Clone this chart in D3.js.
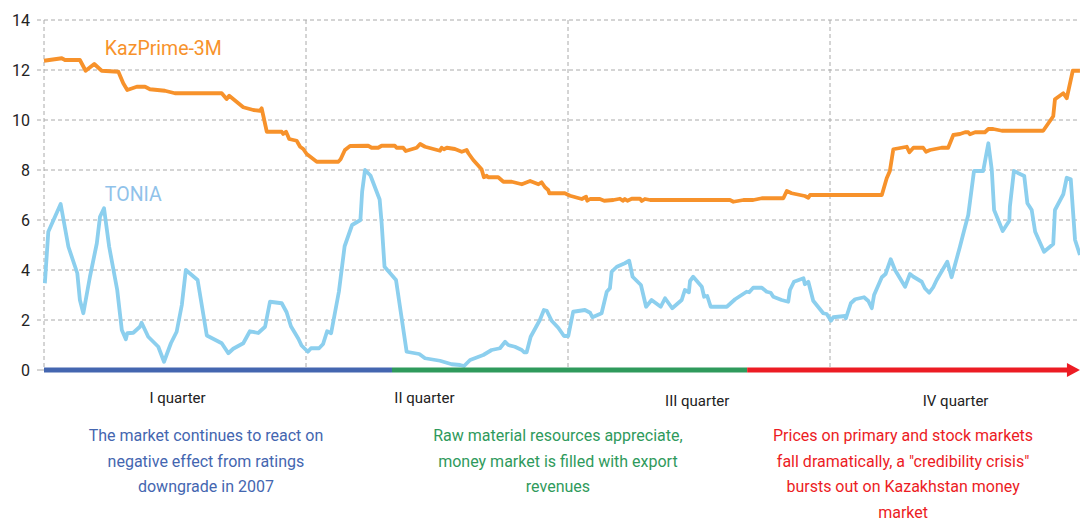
<!DOCTYPE html>
<html><head><meta charset="utf-8">
<script src="https://cdn.jsdelivr.net/npm/d3@7"></script>
<style>
body{margin:0;background:#fff;}
svg{display:block;font-family:Roboto, "Noto Sans", sans-serif;}
</style></head>
<body><svg id="c" width="1080" height="520"></svg>
<script>
// Day of year (0..365) and rate, %
const kazDays = [0,6.2,7.3,12.5,14.5,17.5,20.1,25.9,27.6,29.0,32.3,35.2,36.9,42.1,45.6,61.9,63.6,64.5,69.4,72.9,75.2,75.8,77.6,82.8,83.3,84.3,85.4,88.0,89.2,90.3,91.5,95.0,102.5,103.3,104.8,106.6,112.9,114.1,116.4,117.6,122.2,122.8,125.1,126.0,129.8,131.0,132.7,137.9,138.5,139.3,140.3,143.1,145.5,147.2,147.8,149.5,152.4,153.2,154.2,154.7,158.2,160.0,162.9,166.4,169.3,172.2,173.3,174.5,175.6,176.0,181.4,183.2,187.3,188.8,189.2,190.2,193.6,195.1,198.3,200.6,201.6,202.3,203.2,204.7,207.6,208.2,209.3,211.1,238.9,240.1,243.6,247.0,250.0,257.5,258.7,260.4,265.0,266.2,266.8,291.8,293.5,294.6,295.8,300.5,301.4,302.8,306.2,307.2,308.6,312.6,314.9,316.7,319.0,320.8,321.9,322.5,324.3,327.7,328.9,330.6,333.6,348.0,351.5,352.1,355.0,356.2,358.3,360.8];
const kazValues = [12.37,12.47,12.4,12.4,11.97,12.24,11.97,11.93,11.47,11.2,11.33,11.33,11.23,11.17,11.07,11.07,10.84,10.97,10.51,10.4,10.37,10.47,9.53,9.53,9.44,9.53,9.24,9.17,8.93,8.84,8.64,8.33,8.33,8.43,8.8,8.96,8.97,8.89,8.89,8.97,8.97,8.89,8.89,8.76,8.89,9.04,8.93,8.77,8.89,8.83,8.89,8.84,8.73,8.8,8.67,8.4,8.03,7.71,7.77,7.71,7.71,7.53,7.53,7.43,7.56,7.43,7.51,7.31,7.2,7.07,7.07,6.97,6.84,6.93,6.77,6.84,6.84,6.77,6.8,6.85,6.77,6.84,6.77,6.85,6.85,6.76,6.84,6.8,6.8,6.73,6.8,6.8,6.87,6.87,7.16,7.07,6.96,6.89,7.0,7.0,7.67,7.96,8.83,8.93,8.71,8.89,8.89,8.73,8.8,8.89,8.89,9.4,9.44,9.51,9.51,9.43,9.51,9.51,9.64,9.64,9.57,9.57,10.15,10.83,11.07,10.87,11.97,11.97];
const toniaDays = [0.3,1.5,5.8,8.5,11.6,12.5,13.7,16.0,18.4,19.5,20.9,22.7,25.5,27.1,28.5,29.0,31.1,33.4,34.0,36.3,39.8,41.8,44.2,46.2,48.0,49.4,53.5,56.7,61.9,64.2,65.9,69.4,71.7,74.6,77.0,78.7,82.8,84.5,86.0,88.6,89.7,91.9,93.0,95.8,97.2,98.6,100.0,102.7,104.7,107.3,110.2,110.8,111.8,113.7,116.9,117.6,118.6,122.6,126.3,130.7,132.7,137.9,142.0,144.9,146.3,148.4,153.0,155.9,158.8,160.6,161.7,164.0,166.4,167.2,168.1,169.5,172.7,174.1,175.1,176.8,179.1,181.1,182.6,184.3,188.4,190.2,191.0,194.2,196.0,197.1,197.7,199.5,202.3,203.8,205.0,207.9,209.7,211.6,214.8,216.3,218.8,222.1,223.2,224.6,225.0,226.1,229.1,229.9,231.0,232.2,237.8,240.7,244.7,245.6,247.0,250.0,251.7,253.1,254.0,256.9,259.2,259.8,261.2,264.5,265.0,266.2,267.9,271.4,272.6,274.1,274.9,279.0,279.3,281.0,282.5,285.6,287.1,288.3,289.1,291.8,293.1,294.9,296.4,299.9,301.6,302.8,305.7,306.8,308.3,309.7,310.9,314.6,316.1,319.0,320.8,321.9,323.9,327.1,328.9,330.1,330.9,333.9,336.2,336.4,337.8,341.4,342.5,344.0,345.2,348.3,351.5,352.1,355.0,356.2,357.6,359.1,360.8];
const toniaValues = [3.47,5.53,6.64,4.93,3.87,2.8,2.27,3.73,5.07,6.13,6.47,4.93,3.2,1.6,1.23,1.47,1.49,1.73,1.89,1.33,0.93,0.33,1.07,1.53,2.6,4.0,3.6,1.38,1.07,0.67,0.85,1.07,1.55,1.48,1.73,2.73,2.67,2.31,1.75,1.25,0.98,0.73,0.87,0.87,1.04,1.55,1.47,3.13,4.95,5.8,6.0,7.13,8.0,7.78,6.82,5.87,4.13,3.6,0.73,0.64,0.47,0.37,0.23,0.2,0.16,0.4,0.6,0.8,0.87,1.13,1.0,0.93,0.8,0.71,0.71,1.33,2.0,2.4,2.37,1.97,1.69,1.36,1.36,2.33,2.4,2.29,2.11,2.27,3.13,3.27,3.93,4.13,4.27,4.37,3.73,3.4,2.53,2.8,2.53,2.87,2.47,2.8,3.2,3.11,3.56,3.73,3.33,2.93,2.96,2.53,2.53,2.83,3.13,3.11,3.29,3.29,3.13,3.09,2.93,2.8,2.73,3.2,3.53,3.67,3.43,3.53,2.77,2.27,2.24,1.97,2.11,2.16,2.07,2.67,2.83,2.91,2.76,2.47,3.0,3.71,3.84,4.43,4.0,3.33,3.84,3.73,3.53,3.27,3.09,3.31,3.6,4.33,3.71,4.93,5.73,6.2,7.96,7.96,9.07,8.0,6.4,5.56,5.97,6.53,7.96,7.76,6.67,6.4,5.53,4.73,5.04,6.4,7.03,7.69,7.63,5.2,4.6];
const yTicks = [0,2,4,6,8,10,12,14];
const quarterStarts = [0,91.25,182.5,273.75];
const quarterLabels = ["I quarter","II quarter","III quarter","IV quarter"];
const quarterLabelDays = [46.5,132.5,227.5,317.5];
const phaseBounds = [0,121.2,244.9,360.8];
const phaseColors = ["#4466b0","#2f9a5c","#ec1c24"];
const phaseTexts = [
  ["The market continues to react on","negative effect from ratings","downgrade in 2007"],
  ["Raw material resources appreciate,","money market is filled with export","revenues"],
  ["Prices on primary and stock markets","fall dramatically, a \"credibility crisis\"","bursts out on Kazakhstan money","market"]
];
const phaseTextDays = [56.4,179.0,299.2];

const svg = d3.select("#c");
const x = d3.scaleLinear().domain([0,365]).range([44,1092]);
const y = d3.scaleLinear().domain([0,14]).range([370,20]);

// horizontal grid
svg.append("g").selectAll("line").data(yTicks.filter(d=>d>0)).join("line")
  .attr("x1",37).attr("x2",1080).attr("y1",d=>y(d)).attr("y2",d=>y(d))
  .attr("stroke","#aaa").attr("stroke-width",1).attr("stroke-dasharray","4,3");
svg.append("line").attr("x1",37).attr("x2",44).attr("y1",y(0)).attr("y2",y(0))
  .attr("stroke","#aaa").attr("stroke-width",1);
// vertical grid
svg.append("g").selectAll("line").data(quarterStarts).join("line")
  .attr("x1",d=>x(d)).attr("x2",d=>x(d)).attr("y1",y(14)).attr("y2",y(0))
  .attr("stroke","#aaa").attr("stroke-width",1).attr("stroke-dasharray","4,3");
// y labels
svg.append("g").selectAll("text").data(yTicks).join("text")
  .attr("x",30).attr("y",d=>y(d)).attr("dy","0.35em").attr("text-anchor","end")
  .attr("font-size",16).attr("fill","#222").text(d=>d);

// lines
const kaz = kazDays.map((d,i)=>[d,kazValues[i]]);
const ton = toniaDays.map((d,i)=>[d,toniaValues[i]]);
const line = d3.line().x(d=>x(d[0])).y(d=>y(d[1]));
svg.append("path").attr("d",line(ton)).attr("fill","none").attr("stroke","#8ccfee").attr("stroke-width",3.8).attr("stroke-linejoin","round");
svg.append("path").attr("d",line(kaz)).attr("fill","none").attr("stroke","#f7922b").attr("stroke-width",3.8).attr("stroke-linejoin","round");

// phase bars
for (let i=0;i<3;i++){
  const xe = i===2 ? x(phaseBounds[i+1])-11 : x(phaseBounds[i+1]);
  svg.append("line").attr("x1",x(phaseBounds[i])).attr("x2",xe).attr("y1",y(0)).attr("y2",y(0))
    .attr("stroke",phaseColors[i]).attr("stroke-width",5);
}
const tip = x(phaseBounds[3]);
svg.append("path").attr("d",`M${tip-13},${y(0)-7}L${tip},${y(0)}L${tip-13},${y(0)+7}Z`).attr("fill",phaseColors[2]);

// series labels
svg.append("text").attr("x",x(21.2)).attr("y",55).attr("font-size",19.5).attr("fill","#f7922b").text("KazPrime-3M");
svg.append("text").attr("x",x(21.2)).attr("y",201).attr("font-size",19.5).attr("fill","#90c2ea").text("TONIA");

// quarter labels
svg.append("g").selectAll("text").data(quarterLabels).join("text")
  .attr("x",(d,i)=>x(quarterLabelDays[i])).attr("y",(d,i)=>i<2?403:406).attr("text-anchor","middle")
  .attr("font-size",15).attr("fill","#222").text(d=>d);

// phase texts
phaseTexts.forEach((lines,i)=>{
  svg.append("g").selectAll("text").data(lines).join("text")
    .attr("x",x(phaseTextDays[i])).attr("y",(d,j)=>441+j*25.5).attr("text-anchor","middle")
    .attr("font-size",16).attr("fill",phaseColors[i]).text(d=>d);
});
</script></body></html>
